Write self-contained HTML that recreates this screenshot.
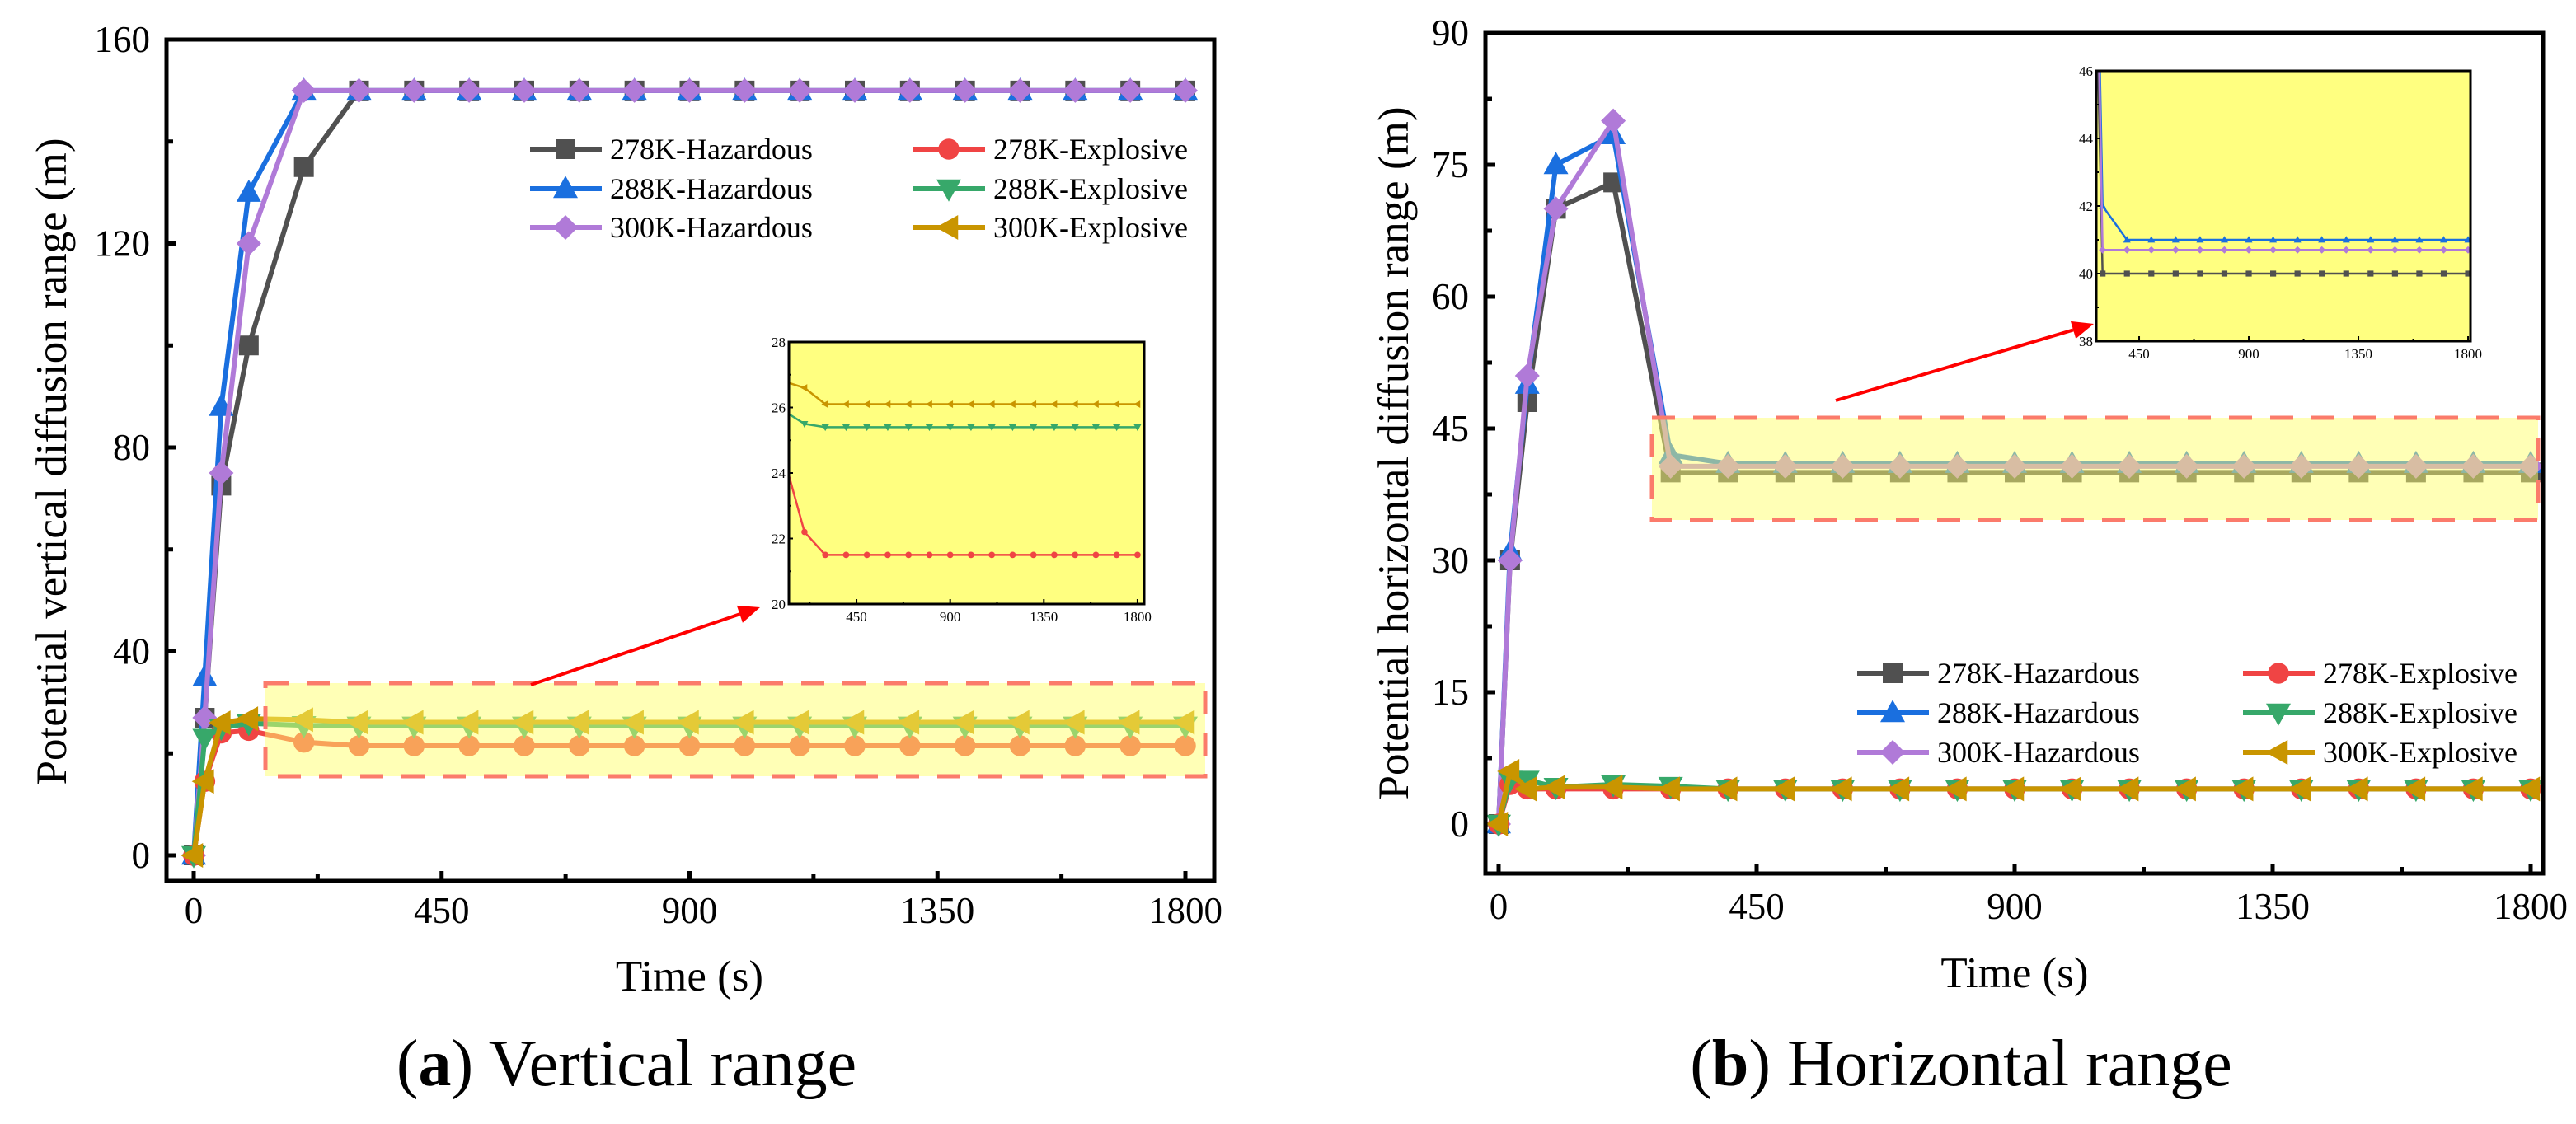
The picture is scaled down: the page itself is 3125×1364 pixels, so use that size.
<!DOCTYPE html>
<html><head><meta charset="utf-8"><style>
html,body{margin:0;padding:0;background:#fff;width:3125px;height:1364px;overflow:hidden;}
svg{display:block;font-family:"Liberation Serif",serif;}
</style></head><body>
<svg id="fig" width="3125" height="1364" viewBox="0 0 3125 1364" xmlns="http://www.w3.org/2000/svg"></svg>
<script>
// ---- data ----
const times = [0,20,50,100,200,300,400,500,600,700,800,900,1000,1100,1200,1300,1400,1500,1600,1700,1800];
const seriesNames = ["278K-Hazardous","288K-Hazardous","300K-Hazardous","278K-Explosive","288K-Explosive","300K-Explosive"];
// (a) vertical
const v278H = [0,27,72.5,100,135,150,150,150,150,150,150,150,150,150,150,150,150,150,150,150,150];
const v288H = [0,35,88,130,150,150,150,150,150,150,150,150,150,150,150,150,150,150,150,150,150];
const v300H = [0,27,75,120,150,150,150,150,150,150,150,150,150,150,150,150,150,150,150,150,150];
const v278E = [0,14.5,24,24.5,22.2,21.5,21.5,21.5,21.5,21.5,21.5,21.5,21.5,21.5,21.5,21.5,21.5,21.5,21.5,21.5,21.5];
const v288E = [0,23,25,25.9,25.5,25.4,25.4,25.4,25.4,25.4,25.4,25.4,25.4,25.4,25.4,25.4,25.4,25.4,25.4,25.4,25.4];
const v300E = [0,14.5,26,26.8,26.6,26.1,26.1,26.1,26.1,26.1,26.1,26.1,26.1,26.1,26.1,26.1,26.1,26.1,26.1,26.1,26.1];
// (b) horizontal
const h278H = [0,30,48,70,73,40,40,40,40,40,40,40,40,40,40,40,40,40,40,40,40];
const h288H = [0,31,50,75,78.4,42,41,41,41,41,41,41,41,41,41,41,41,41,41,41,41];
const h300H = [0,30,51,70,80,40.7,40.7,40.7,40.7,40.7,40.7,40.7,40.7,40.7,40.7,40.7,40.7,40.7,40.7,40.7,40.7];
const h278E = [0,4.5,4,4,4,4,4,4,4,4,4,4,4,4,4,4,4,4,4,4,4];
const h288E = [0,5,5,4.2,4.5,4.3,4,4,4,4,4,4,4,4,4,4,4,4,4,4,4];
const h300E = [0,6,4,4.2,4.2,4,4,4,4,4,4,4,4,4,4,4,4,4,4,4,4];
const xTicks = [0,450,900,1350,1800];
const vYTicks = [0,40,80,120,160];
const hYTicks = [0,15,30,45,60,75,90];
const insetXTicks = [450,900,1350,1800];
const vInsetYTicks = [20,22,24,26,28];
const hInsetYTicks = [38,40,42,44,46];

const colors = ["#505050","#1a6fdf","#b07ad8","#f04444","#37a86a","#c99500"];
const markers = ["square","triUp","diamond","circle","triDown","triLeft"];
const NS = "http://www.w3.org/2000/svg";
const svg = document.getElementById("fig");
function el(tag, attrs, parent){
  const e = document.createElementNS(NS, tag);
  for (const k in attrs) e.setAttribute(k, attrs[k]);
  (parent||svg).appendChild(e);
  return e;
}
function markerPath(type, x, y, s){
  switch(type){
    case "square": return `M${x-s*0.8},${y-s*0.8}h${s*1.6}v${s*1.6}h${-s*1.6}z`;
    case "triUp": return `M${x},${y-s*1.05}L${x+s},${y+s*0.75}L${x-s},${y+s*0.75}z`;
    case "triDown": return `M${x},${y+s*1.05}L${x+s},${y-s*0.75}L${x-s},${y-s*0.75}z`;
    case "triLeft": return `M${x-s*1.05},${y}L${x+s*0.75},${y-s}L${x+s*0.75},${y+s}z`;
    case "diamond": return `M${x},${y-s}L${x+s},${y}L${x},${y+s}L${x-s},${y}z`;
    default: return `M${x-s*0.85},${y}a${s*0.85},${s*0.85} 0 1,0 ${s*1.7},0a${s*0.85},${s*0.85} 0 1,0 ${-s*1.7},0z`;
  }
}
function drawSeries(g, vals, i, sx, sy, lw, ms, clip){
  const pts = times.map((t,k)=>[sx(t), sy(vals[k])]);
  const line = el("polyline",{points:pts.map(p=>p.join(",")).join(" "),fill:"none",stroke:colors[i],"stroke-width":lw,"stroke-linejoin":"round"},g);
  
  
  if (clip) line.setAttribute("clip-path", clip);
  pts.forEach((p,k)=>{
    const m = el("path",{d:markerPath(markers[i],p[0],p[1],ms),fill:colors[i]},g);
    
    
    if (clip) m.setAttribute("clip-path", clip);
  });
}
function axisBox(g, L, T, R, B, w){
  const r = el("rect",{x:L,y:T,width:R-L,height:B-T,fill:"none",stroke:"#000","stroke-width":w},g);
  
  
}
function drawPanel(p){
  const g = el("g",{});
  
  
  const sx = t => p.x0 + (t - 0) * (p.x1 - p.x0) / 1800;
  const sy = v => p.y0 - (v - 0) * (p.y0 - p.yTop) / p.yMax;
  const tg = el("g",{},g);
  
  
  const yStep = p.yTicks[1]-p.yTicks[0];
  for (let v = 0; v <= p.yMax + 1e-9; v += yStep/2){
    const major = Math.abs((v/yStep)-Math.round(v/yStep))<1e-6;
    el("line",{x1:p.L,x2:p.L+(major?12:8),y1:sy(v),y2:sy(v),stroke:"#000","stroke-width":5},tg);
  }
  for (let t = 0; t <= 1800; t += 225){
    const major = t%450===0;
    el("line",{x1:sx(t),x2:sx(t),y1:p.B,y2:p.B-(major?12:8),stroke:"#000","stroke-width":5},tg);
  }
  p.yTicks.forEach(v=>{
    const t = el("text",{x:p.L-20,y:sy(v)+15,"text-anchor":"end","font-size":45},g);
    t.textContent = v;
    
    
  });
  xTicks.forEach(v=>{
    const t = el("text",{x:sx(v),y:p.xLabY,"text-anchor":"middle","font-size":45},g);
    t.textContent = v;
    
    
  });
  p.data.forEach((vals,i)=>drawSeries(g, vals, i, sx, sy, 6, 15, null));
  const hb = el("rect",{x:p.hl[0],y:p.hl[1],width:p.hl[2]-p.hl[0],height:p.hl[3]-p.hl[1],fill:"rgba(255,255,110,0.5)",stroke:"#fb7b6b","stroke-width":5,"stroke-dasharray":"28 22"},g);
  
  
  const ag = el("g",{},g);
  
  
  const [ax1,ay1,ax2,ay2] = p.arrow;
  const ang = Math.atan2(ay2-ay1, ax2-ax1);
  const hx = ax2 - 26*Math.cos(ang), hy = ay2 - 26*Math.sin(ang);
  el("line",{x1:ax1,y1:ay1,x2:hx,y2:hy,stroke:"#f00","stroke-width":4},ag);
  el("path",{d:`M${ax2},${ay2}L${hx+11*Math.sin(ang)},${hy-11*Math.cos(ang)}L${hx-11*Math.sin(ang)},${hy+11*Math.cos(ang)}z`,fill:"#f00"},ag);
  axisBox(g, p.L, p.T, p.R, p.B, 5);
  const ins = p.inset;
  const ig = el("g",{},g);
  
  
  const ir = el("rect",{x:ins.L,y:ins.T,width:ins.R-ins.L,height:ins.B-ins.T,fill:"#ffff80"},ig);
  
  
  const isx = t => ins.L + (t - ins.xMin)*(ins.R-ins.L)/(ins.xMax-ins.xMin);
  const isy = v => ins.B - (v - ins.yMin)*(ins.B-ins.T)/(ins.yMax-ins.yMin);
  const cid = "clip-"+p.name;
  const cp = el("clipPath",{id:cid},ig);
  el("rect",{x:ins.L,y:ins.T,width:ins.R-ins.L,height:ins.B-ins.T},cp);
  ins.series.forEach(i=>drawSeries(ig, p.data[i], i, isx, isy, 2.5, 4.5, `url(#${cid})`));
  for (let v = ins.yMin; v <= ins.yMax+1e-9; v += 1){
    const major = (v - ins.yMin) % 2 === 0;
    el("line",{x1:ins.L,x2:ins.L+(major?5:3),y1:isy(v),y2:isy(v),stroke:"#000","stroke-width":2},ig);
  }
  for (let t = 225; t <= 1800; t += 225){
    if (t < ins.xMin) continue;
    el("line",{x1:isx(t),x2:isx(t),y1:ins.B,y2:ins.B-(t%450===0?6:3),stroke:"#000","stroke-width":2},ig);
  }
  ins.yTicks.forEach(v=>{
    const t = el("text",{x:ins.L-4,y:isy(v)+6,"text-anchor":"end","font-size":17},ig);
    t.textContent = v;
    
    
  });
  insetXTicks.forEach(v=>{
    const t = el("text",{x:isx(v),y:ins.B+21,"text-anchor":"middle","font-size":17},ig);
    t.textContent = v;
    
    
  });
  el("rect",{x:ins.L,y:ins.T,width:ins.R-ins.L,height:ins.B-ins.T,fill:"none",stroke:"#000","stroke-width":3},ig);
  const lg = el("g",{},g);
  
  
  seriesNames.forEach((n,i)=>{
    const col = i<3?0:1, row = i%3;
    const lx = p.leg.cols[col], ly = p.leg.rows[row];
    const eg = el("g",{},lg);
    
    
    el("line",{x1:lx,x2:lx+87,y1:ly,y2:ly,stroke:colors[i],"stroke-width":6},eg);
    el("path",{d:markerPath(markers[i],lx+43,ly,15),fill:colors[i]},eg);
    const t = el("text",{x:lx+97,y:ly+12,"font-size":36},eg);
    t.textContent = n;
  });
  const xt = el("text",{x:(p.x0+p.x1)/2,y:p.xTitleY,"text-anchor":"middle","font-size":53},g);
  xt.textContent = "Time (s)";
  
  
  const yt = el("text",{x:0,y:0,"text-anchor":"middle","font-size":53,transform:`translate(${p.yTitleX},${p.yTitleY}) rotate(-90)`},g);
  yt.textContent = p.yTitle;
  
  
  const cap = el("text",{x:p.capX,y:p.capY,"text-anchor":"middle","font-size":80},g);
  
  
  const b = el("tspan",{"font-weight":"bold"},cap);
  cap.insertBefore(document.createTextNode("("), b);
  b.textContent = p.letter;
  cap.appendChild(document.createTextNode(") " + p.caption));
}
drawPanel({name:"panel-a-vertical", L:202,T:48,R:1473,B:1069, x0:235,x1:1438, y0:1038,yTop:48,yMax:160,
  yTicks:vYTicks, xLabY:1120, data:[v278H,v288H,v300H,v278E,v288E,v300E],
  hl:[322,829,1462,942], arrow:[644,831,922,737],
  inset:{L:957,T:415,R:1388,B:733,xMin:125,xMax:1832,yMin:20,yMax:28,yTicks:vInsetYTicks,series:[3,4,5]},
  leg:{cols:[643,1108],rows:[181,229,276]},
  xTitleY:1202, yTitleX:80, yTitleY:560, yTitle:"Potential vertical diffusion range (m)",
  capX:760, capY:1317, letter:"a", caption:"Vertical range"});
drawPanel({name:"panel-b-horizontal", L:1802,T:40,R:3085,B:1060, x0:1818,x1:3070, y0:1000,yTop:40,yMax:90,
  yTicks:hYTicks, xLabY:1115, data:[h278H,h288H,h300H,h278E,h288E,h300E],
  hl:[2004,507,3079,631], arrow:[2227,486,2540,393],
  inset:{L:2543,T:86,R:2997,B:414,xMin:274,xMax:1810,yMin:38,yMax:46,yTicks:hInsetYTicks,series:[0,1,2]},
  leg:{cols:[2253,2721],rows:[817,865,913]},
  xTitleY:1198, yTitleX:1708, yTitleY:550, yTitle:"Potential horizontal diffusion range (m)",
  capX:2379, capY:1317, letter:"b", caption:"Horizontal range"});
</script>
</body></html>
